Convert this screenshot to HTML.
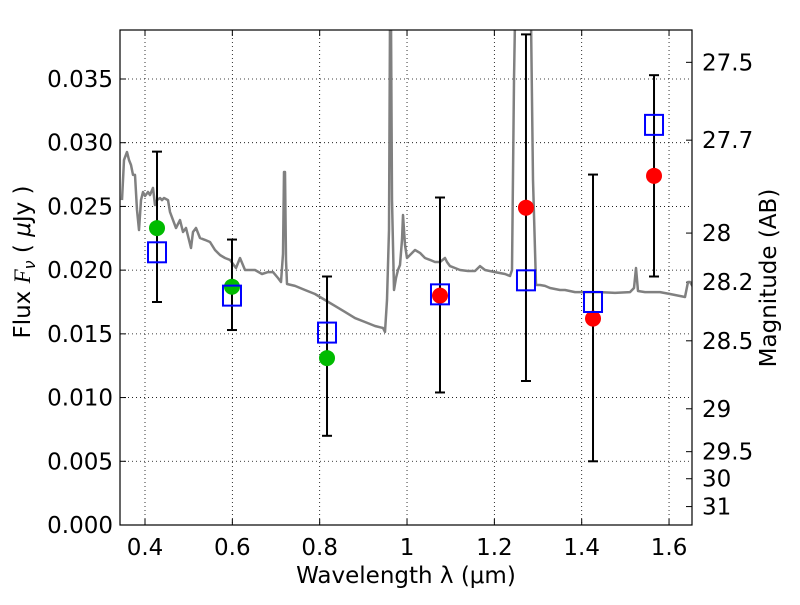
<!DOCTYPE html>
<html><head><meta charset="utf-8"><style>
body{margin:0;background:#fff}
svg text{font-family:"DejaVu Sans","Liberation Sans",sans-serif;fill:#000}
</style></head><body>
<svg id="c" width="800" height="600"></svg>
<script>
const specLam=[];const specFlux=[];
const specPx=[[122,200],[124,160],[127,152],[129,160],[131,165],[133,175],[135,175],[137,210],[139,230],[141,200],[143,192],[145,196],[148,192],[150,195],[153,188],[155,205],[157,200],[160,198],[162,200],[164,198],[168,200],[170,212],[173,220],[176,228],[180,220],[183,232],[186,228],[189,240],[191,248],[193,232],[196,228],[200,238],[205,240],[210,242],[215,250],[220,255],[225,258],[230,260],[236,268],[240,258],[245,270],[250,270],[255,270],[262,274],[268,272],[273,272],[278,278],[281,282],[283,254],[284,172],[285,172],[286,260],[287,284],[295,286],[305,290],[315,294],[325,300],[335,306],[345,312],[355,318],[365,322],[375,326],[383,328],[385,332],[387,300],[389,230],[390,20],[391,20],[392,200],[394,290],[396,278],[398,270],[400,265],[402,240],[403,215],[405,245],[407,258],[410,255],[415,250],[420,253],[425,258],[430,260],[435,262],[440,262],[445,258],[447,262],[450,266],[455,268],[460,270],[468,271],[475,271],[480,266],[485,270],[495,272],[505,274],[510,276],[512,270],[514,80],[515,20],[531,20],[533,180],[536,285],[540,285],[545,286],[550,288],[560,290],[565,290],[575,292],[580,292],[600,292],[615,293],[630,292],[634,288],[636,268],[638,291],[645,292],[660,292],[670,294],[680,296],[685,297],[688,282],[690,282],[693,287]];
specPx.forEach(p=>{specLam.push(+(0.4+(p[0]-145)/436.7).toFixed(4));specFlux.push(+((525-p[1])/12743).toFixed(5));});
const greenLam=[0.4275,0.5992,0.8168];
const greenFlux=[0.0233,0.0187,0.0131];
const redLam=[1.0755,1.2724,1.4259,1.5656];
const redFlux=[0.0180,0.0249,0.0162,0.0274];
const boxLam=[0.4275,0.5992,0.8168,1.0755,1.2724,1.4259,1.5656];
const boxFlux=[0.0214,0.0180,0.0151,0.0181,0.0192,0.0175,0.0314];
const errLo=[0.0175,0.0153,0.0070,0.0104,0.0113,0.0050,0.0195];
const errHi=[0.0293,0.0224,0.0195,0.0257,0.0385,0.0275,0.0353];
const xTicks=[0.4,0.6,0.8,1.0,1.2,1.4,1.6];
const xLabels=["0.4","0.6","0.8","1","1.2","1.4","1.6"];
const yTicks=[0,0.005,0.01,0.015,0.02,0.025,0.03,0.035];
const yLabels=["0.000","0.005","0.010","0.015","0.020","0.025","0.030","0.035"];
const magTicks=[27.5,27.7,28,28.2,28.5,29,29.5,30,31];

const L=120,R=692,T=30,B=525;
const X=v=>145+(v-0.4)*436.7;
const Y=v=>525-v*12743;
const svg=document.getElementById('c');const NS='http://www.w3.org/2000/svg';
function mk(t,a,txt){const e=document.createElementNS(NS,t);for(const k in a)e.setAttribute(k,a[k]);if(txt!=null)e.textContent=txt;svg.appendChild(e);return e;}
const defs=mk('defs',{});const cp=document.createElementNS(NS,'clipPath');cp.setAttribute('id','pc');
const cr=document.createElementNS(NS,'rect');cr.setAttribute('x',L);cr.setAttribute('y',T);cr.setAttribute('width',R-L);cr.setAttribute('height',B-T);cp.appendChild(cr);defs.appendChild(cp);
xTicks.forEach((v,i)=>{let e=mk('line',{x1:X(v),x2:X(v),y1:T,y2:B,stroke:'#000','stroke-width':0.8,'stroke-dasharray':'1,3'});

mk('line',{x1:X(v),x2:X(v),y1:B,y2:B-6,stroke:'#000'});
mk('line',{x1:X(v),x2:X(v),y1:T,y2:T+6,stroke:'#000'});
e=mk('text',{x:X(v),y:555,'text-anchor':'middle','font-size':23},xLabels[i]);
});
yTicks.forEach((v,i)=>{let e=mk('line',{x1:L,x2:R,y1:Y(v),y2:Y(v),stroke:'#000','stroke-width':0.8,'stroke-dasharray':'1,3'});

mk('line',{x1:L,x2:L+6,y1:Y(v),y2:Y(v),stroke:'#000'});
e=mk('text',{x:113,y:Y(v)+8,'text-anchor':'end','font-size':23},yLabels[i]);
});
magTicks.forEach(m=>{const f=Math.pow(10,(23.9-m)/2.5);const y=Y(f);
mk('line',{x1:R,x2:R-6,y1:y,y2:y,stroke:'#000'});
let e=mk('text',{x:702,y:y+8,'font-size':23},String(m));
});
let d='';specLam.forEach((l,i)=>{d+=(i?'L':'M')+X(l).toFixed(1)+','+Y(specFlux[i]).toFixed(1);});
let sp=mk('path',{d:d,fill:'none',stroke:'#808080','stroke-width':2.5,'stroke-linejoin':'round','clip-path':'url(#pc)'});

boxLam.forEach((l,i)=>{const x=X(l);
let e=mk('line',{x1:x,x2:x,y1:Y(errLo[i]),y2:Y(errHi[i]),stroke:'#000','stroke-width':2,'clip-path':'url(#pc)'});

[errLo[i],errHi[i]].forEach(v=>mk('line',{x1:x-5,x2:x+5,y1:Y(v),y2:Y(v),stroke:'#000','stroke-width':2}));});
greenLam.forEach((l,i)=>{let e=mk('circle',{cx:X(l),cy:Y(greenFlux[i]),r:8,fill:'#00bb00'});
});
redLam.forEach((l,i)=>{let e=mk('circle',{cx:X(l),cy:Y(redFlux[i]),r:8,fill:'#ff0000'});
});
boxLam.forEach((l,i)=>{let e=mk('rect',{x:X(l)-9,y:Y(boxFlux[i])-10,width:18,height:20,fill:'none',stroke:'#0000ff','stroke-width':2});
});
let fr=mk('rect',{x:L,y:T,width:R-L,height:B-T,fill:'none',stroke:'#000','stroke-width':1.2});

let xt=mk('text',{x:406,y:583,'text-anchor':'middle','font-size':23},'Wavelength  λ (μm)');

let yt=mk('text',{x:0,y:0,'text-anchor':'middle','font-size':23,transform:'translate(30,262) rotate(-90)'});
yt.innerHTML='Flux  <tspan font-style="italic" font-family="Liberation Serif, serif">F</tspan><tspan font-style="italic" font-size="16" dy="5">ν</tspan><tspan dy="-5">  ( </tspan><tspan font-style="italic">μ</tspan>Jy )';

let rt=mk('text',{x:0,y:0,'text-anchor':'middle','font-size':23,transform:'translate(776,278) rotate(-90)'},'Magnitude (AB)');

</script>
</body></html>
